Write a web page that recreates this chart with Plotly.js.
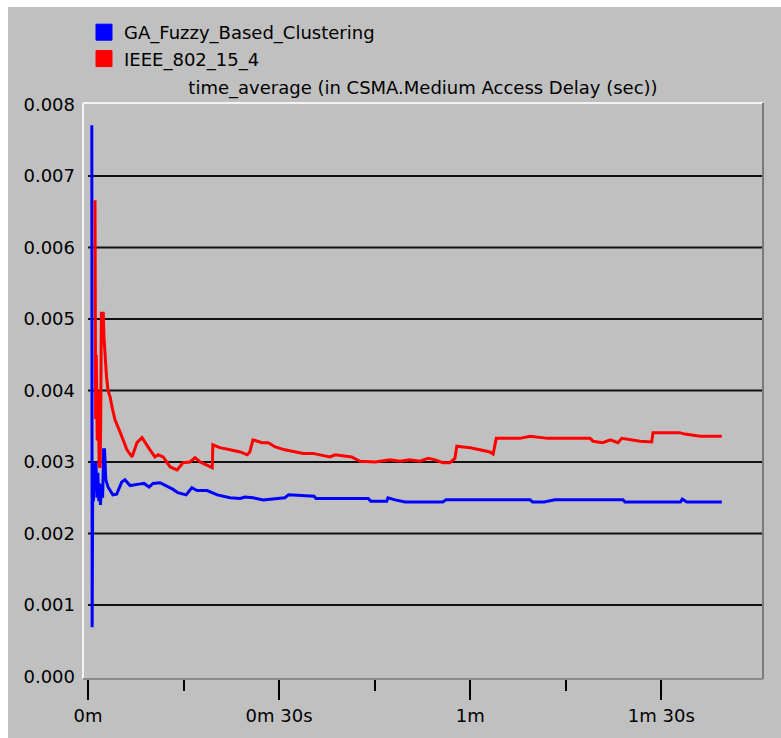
<!DOCTYPE html>
<html>
<head>
<meta charset="utf-8">
<script src="https://cdn.plot.ly/plotly-3.0.1.min.js"></script>
<style>
  html, body { margin: 0; padding: 0; background: #ffffff; }
  #chart { position: absolute; left: 8px; top: 7px; width: 773px; height: 731px; }
</style>
</head>
<body>
<div id="chart"></div>
<script>
// Simulation time (s) and time-averaged CSMA medium access delay (sec)
const gaTime = [0.6, 0.65, 0.75, 0.85, 0.95, 1.1, 1.25, 1.4, 1.55, 1.7, 1.85, 1.95, 2.1, 2.3, 2.45, 2.6,
  2.8, 3.14, 3.9, 4.5, 5.3, 5.8, 6.6, 8.0, 8.8, 9.6, 10.2, 11.3, 12.4, 13.3, 14.1, 15.4, 16.3, 17.1,
  18.7, 20.3, 22.3, 23.9, 24.6, 25.9, 27.5, 29.4, 30.9, 31.5, 35.5, 35.8, 44.0, 44.4, 46.9, 47.1,
  48.2, 49.8, 55.7, 56.2, 69.4, 69.8, 71.6, 73.3, 84.0, 84.3, 93.0, 93.3, 94.0, 99.5];
const gaDelay = [0.00771, 0.00069, 0.0030, 0.00245, 0.0029, 0.0026, 0.0030, 0.0025, 0.00285, 0.00245,
  0.0027, 0.0024, 0.0026, 0.0025, 0.00317, 0.00317, 0.00275, 0.00265, 0.00254, 0.00255, 0.00272,
  0.00275, 0.00267, 0.00269, 0.0027, 0.00265, 0.0027, 0.00271, 0.00266, 0.00262, 0.00257, 0.00254,
  0.00264, 0.0026, 0.0026, 0.00254, 0.0025, 0.00249, 0.00251, 0.0025, 0.00247, 0.00249, 0.0025,
  0.00254, 0.00252, 0.00249, 0.00249, 0.00245, 0.00245, 0.0025, 0.00247, 0.00244, 0.00244, 0.00247,
  0.00247, 0.00244, 0.00244, 0.00247, 0.00247, 0.00244, 0.00244, 0.00248, 0.00244, 0.00244];

const ieeeTime = [1.1, 1.2, 1.3, 1.45, 1.6, 1.75, 1.9, 2.0, 2.1, 2.4, 2.5, 2.7, 2.9, 3.14, 3.5, 3.77,
  4.24, 5.02, 6.12, 6.91, 7.69, 8.48, 8.95, 9.73, 10.5, 11.0, 11.8, 12.9, 14.0, 14.9, 16.0, 16.8,
  17.6, 18.7, 19.5, 19.6, 20.7, 22.3, 23.9, 25.0, 25.4, 25.9, 27.3, 28.3, 29.4, 30.9, 32.5, 33.8,
  35.3, 36.4, 38.0, 38.8, 40.0, 41.4, 42.7, 45.1, 47.4, 49.0, 50.5, 52.1, 53.4, 54.5, 55.7, 56.8,
  57.6, 57.9, 58.9, 60.0, 61.5, 63.1, 63.6, 64.1, 67.8, 69.4, 72.2, 78.8, 79.3, 80.8, 82.0, 83.2,
  83.8, 86.7, 88.5, 88.7, 92.9, 93.7, 96.1, 99.5];
const ieeeDelay = [0.00666, 0.0036, 0.0045, 0.0033, 0.0040, 0.00295, 0.00292, 0.0036, 0.00508, 0.00508,
  0.00476, 0.0044, 0.0042, 0.0040, 0.0039, 0.00377, 0.00359, 0.00342, 0.00317, 0.00307, 0.00327,
  0.00334, 0.00327, 0.00317, 0.00307, 0.0031, 0.00307, 0.00293, 0.00289, 0.00299, 0.0030, 0.00306,
  0.0030, 0.00296, 0.00292, 0.00324, 0.0032, 0.00317, 0.00314, 0.0031, 0.00314, 0.00331, 0.00327,
  0.00327, 0.00321, 0.00317, 0.00314, 0.00312, 0.00312, 0.0031, 0.00307, 0.0031, 0.00309, 0.00307,
  0.00301, 0.0030, 0.00303, 0.00301, 0.00303, 0.00301, 0.00305, 0.00303, 0.00299, 0.00299, 0.00305,
  0.00322, 0.00321, 0.0032, 0.00317, 0.00314, 0.00311, 0.00333, 0.00333, 0.00336, 0.00333, 0.00333,
  0.00329, 0.00327, 0.00331, 0.00327, 0.00333, 0.00329, 0.00328, 0.00341, 0.00341, 0.00339, 0.00336,
  0.00336];

const seriesNames = ['GA_Fuzzy_Based_Clustering', 'IEEE_802_15_4'];
const seriesColors = ['#0000ff', '#ff0000'];

const xTickVals = [0, 30, 60, 90];
const xTickText = ['0m', '0m 30s', '1m', '1m 30s'];
const xMinorVals = [15, 45, 75];
const yTickVals = [0, 0.001, 0.002, 0.003, 0.004, 0.005, 0.006, 0.007, 0.008];

const xRange = [-0.785, 105.97];
const yRange = [-0.000035, 0.00802];

const font = 'DejaVu Sans, Verdana, sans-serif';
const panelGray = '#c0c0c0';

const traces = [
  { x: gaTime, y: gaDelay, mode: 'lines', showlegend: false,
    line: { color: seriesColors[0], width: 3 } },
  { x: ieeeTime, y: ieeeDelay, mode: 'lines', showlegend: false,
    line: { color: seriesColors[1], width: 3 } },
  // square swatches for the legend
  { x: [null], y: [null], mode: 'markers', name: seriesNames[0],
    marker: { symbol: 'square', size: 16, color: seriesColors[0], line: { width: 1, color: seriesColors[0] } } },
  { x: [null], y: [null], mode: 'markers', name: seriesNames[1],
    marker: { symbol: 'square', size: 16, color: seriesColors[1], line: { width: 1, color: seriesColors[1] } } }
];

// horizontal grid lines at the inner ticks
const gridShapes = yTickVals.filter(v => v > 0 && v < 0.008).map(v => ({
  type: 'line', xref: 'x', yref: 'y', x0: 0, x1: xRange[1], y0: v, y1: v,
  line: { color: '#111111', width: 2 }, layer: 'below'
}));

// bevelled plot frame: light top/left, dark right/bottom
const frameShapes = [
  { type: 'line', xref: 'paper', yref: 'paper', x0: 0, x1: 1, y0: 1, y1: 1, line: { color: '#f4f4f4', width: 2 } },
  { type: 'line', xref: 'paper', yref: 'paper', x0: 0, x1: 0, y0: 0, y1: 1, line: { color: '#f4f4f4', width: 2 } },
  { type: 'line', xref: 'paper', yref: 'paper', x0: 1, x1: 1, y0: 0, y1: 1, line: { color: '#7a7a7a', width: 2 } },
  { type: 'line', xref: 'paper', yref: 'paper', x0: 0, x1: 1, y0: 0, y1: 0, line: { color: '#8a8a8a', width: 2 } }
];

const layout = {
  width: 773, height: 731,
  margin: { l: 75, r: 18, t: 96, b: 59, autoexpand: false },
  paper_bgcolor: panelGray,
  plot_bgcolor: panelGray,
  font: { family: font, size: 18, color: '#000000' },
  title: {
    text: 'time_average (in CSMA.Medium Access Delay (sec))',
    font: { family: font, size: 18, color: '#000000' },
    x: 0.5, xref: 'paper', xanchor: 'center',
    y: 1 - 81 / 731, yref: 'container', yanchor: 'middle'
  },
  showlegend: true,
  legend: {
    xref: 'container', yref: 'container',
    x: 76 / 773, y: 1 - 7 / 731, xanchor: 'left', yanchor: 'top',
    bgcolor: 'rgba(0,0,0,0)', borderwidth: 0,
    font: { family: font, size: 18, color: '#000000' },
    tracegroupgap: 0, itemwidth: 30
  },
  xaxis: {
    range: xRange, fixedrange: true,
    showgrid: false, zeroline: false, showline: false,
    tickmode: 'array', tickvals: xTickVals, ticktext: xTickText,
    ticks: 'outside', ticklen: 20, tickwidth: 2, tickcolor: '#000000',
    tickfont: { family: font, size: 18, color: '#000000' },
    minor: { tickmode: 'array', tickvals: xMinorVals, ticks: 'outside', ticklen: 11,
             tickwidth: 2, tickcolor: '#000000', showgrid: false }
  },
  yaxis: {
    range: yRange, fixedrange: true,
    showgrid: false, zeroline: false, showline: false,
    tickmode: 'array', tickvals: yTickVals, tickformat: '.3f',
    ticks: '', ticklabelstandoff: 7,
    tickfont: { family: font, size: 18, color: '#000000' }
  },
  shapes: gridShapes.concat(frameShapes)
};

Plotly.newPlot('chart', traces, layout, { displayModeBar: false, staticPlot: true });
</script>
</body>
</html>
